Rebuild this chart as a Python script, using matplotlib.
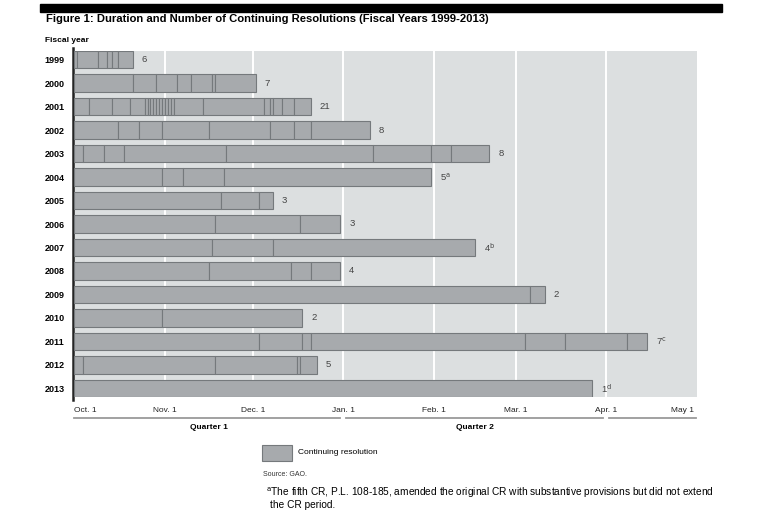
import matplotlib
matplotlib.use('Agg')
import matplotlib.pyplot as plt
from matplotlib.patches import Rectangle

# Dados: dia (a partir de 1 de outubro) em que termina cada CR

anos = ['1999', '2000', '2001', '2002', '2003', '2004', '2005', '2006',
        '2007', '2008', '2009', '2010', '2011', '2012', '2013']
fim_cr = [
    [1, 8, 11, 13, 15, 20],
    [20, 28, 35, 40, 47, 48, 62],
    [5, 13, 19, 24, 25, 26, 27, 28, 29, 30, 31, 32, 33, 34, 44, 65, 67, 68, 71, 75, 81],
    [15, 22, 30, 46, 67, 75, 81, 101],
    [3, 10, 17, 52, 102, 122, 129, 142],
    [30, 37, 51, 122],
    [50, 63, 68],
    [48, 77, 91],
    [47, 68, 137],
    [46, 74, 81, 91],
    [156, 161],
    [30, 78],
    [63, 78, 81, 154, 168, 189, 196],
    [3, 48, 76, 77, 83],
    [177],
]
rotulos = ['6', '7', '21', '8', '8', r'5$^{\mathrm{a}}$', '3', '3', r'4$^{\mathrm{b}}$', '4',
           '2', '2', r'7$^{\mathrm{c}}$', '5', r'1$^{\mathrm{d}}$']

meses_dia = [0, 31, 61, 92, 123, 151, 182, 212]
meses = ['Oct. 1', 'Nov. 1', 'Dec. 1', 'Jan. 1', 'Feb. 1', 'Mar. 1', 'Apr. 1', 'May 1']
trimestres = ['Quarter 1', 'Quarter 2']

plt.rcParams['font.family'] = ['Liberation Sans', 'DejaVu Sans']

W, H = 763, 512
cor_barra = '#a7aaad'
cor_borda = '#75797c'
cor_fundo = '#dcdfe0'

fig = plt.figure(figsize=(W / 100, H / 100), dpi=100)
fig.patch.set_facecolor('white')

ax = fig.add_axes([73 / W, 1 - 397 / H, (697 - 73) / W, (397 - 51) / H])
ax.set_facecolor(cor_fundo)

for i, fins in enumerate(fim_cr):
    inicios = [0] + fins[:-1]
    larguras = [f - s for s, f in zip(inicios, fins)]
    ax.barh(i, larguras, left=inicios, height=0.74, color=cor_barra,
            edgecolor=cor_borda, linewidth=0.8, zorder=3)
    ax.text(fins[-1] + 3, i, rotulos[i], va='center', ha='left',
            fontsize=6.8, color='#444444')

ax.set_xlim(-0.5, 213)
ax.set_ylim(14.37, -0.37)

for d in meses_dia[1:-1]:
    ax.axvline(d, color='white', linewidth=1.4, zorder=1)

ax.set_yticks(range(len(anos)), anos, fontsize=6.5, fontweight='bold')
ax.set_xticks(meses_dia, meses, fontsize=6)
ax.tick_params(axis='both', length=0)
ax.tick_params(axis='y', pad=6)
ax.tick_params(axis='x', pad=7, colors='#222222')
xl = ax.get_xticklabels()
xl[0].set_ha('left')
xl[-1].set_ha('right')

for s in ['top', 'right', 'bottom']:
    ax.spines[s].set_visible(False)
ax.spines['left'].set_linewidth(1.8)
ax.spines['left'].set_color('#222222')
ax.spines['left'].set_bounds(14.5, -0.5)

# linhas dos trimestres
tr = ax.get_xaxis_transform()
for a, b in [(0, 91), (93, 181), (183, 212.5)]:
    ax.plot([a, b], [-0.06, -0.06], color='#9a9a9a', linewidth=1.3,
            transform=tr, clip_on=False)
ax.text(46, -0.087, trimestres[0], transform=tr, ha='center', va='center',
        fontsize=6, fontweight='bold')
ax.text(137, -0.087, trimestres[1], transform=tr, ha='center', va='center',
        fontsize=6, fontweight='bold')

# titulo e textos
fig.patches.append(Rectangle((40 / W, 1 - 12 / H), (722 - 40) / W, 8 / H,
                             color='black', transform=fig.transFigure))
fig.text(46 / W, 1 - 19 / H,
         'Figure 1: Duration and Number of Continuing Resolutions (Fiscal Years 1999-2013)',
         fontsize=8.1, fontweight='bold', va='center', ha='left')
fig.text(45 / W, 1 - 40 / H, 'Fiscal year', fontsize=6, fontweight='bold',
         va='center', ha='left')

fig.patches.append(Rectangle((262 / W, 1 - 461 / H), 30 / W, 16 / H,
                             facecolor=cor_barra, edgecolor=cor_borda,
                             linewidth=0.8, transform=fig.transFigure))
fig.text(298 / W, 1 - 453 / H, 'Continuing resolution', fontsize=6,
         va='center', ha='left')
fig.text(263 / W, 1 - 475 / H, 'Source: GAO.', fontsize=5,
         va='center', ha='left', color='#333333')
fig.text(266 / W, 1 - 493 / H,
         r'$^{\mathrm{a}}$The fifth CR, P.L. 108-185, amended the original CR with substantive provisions but did not extend',
         fontsize=7.25, va='center', ha='left')
fig.text(270 / W, 1 - 505 / H, 'the CR period.', fontsize=7.25,
         va='center', ha='left')

plt.savefig('out.png', dpi=100)
